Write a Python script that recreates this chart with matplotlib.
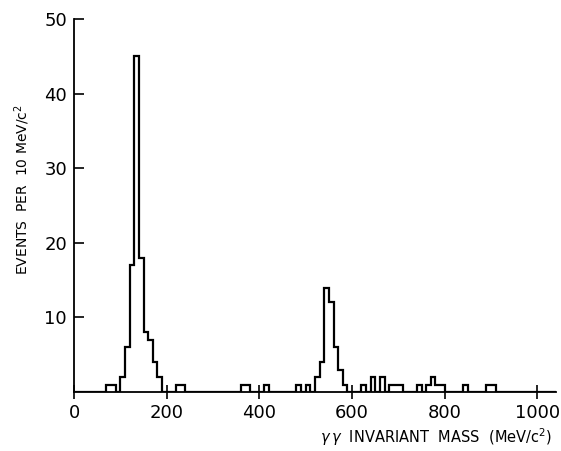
import numpy as np
import matplotlib
matplotlib.use("Agg")
import matplotlib.pyplot as plt

# Data: 10 MeV bins (lower edges) with nonzero counts
bin_low = [70, 80, 100, 110, 120, 130, 140, 150, 160, 170, 180,
           220, 230, 360, 370, 410, 480, 500,
           520, 530, 540, 550, 560, 570, 580,
           620, 640, 660, 680, 690, 700, 740, 760, 770, 780, 790,
           840, 890, 900]
counts = [1, 1, 2, 6, 17, 45, 18, 8, 7, 4, 2,
          1, 1, 1, 1, 1, 1, 1,
          2, 4, 14, 12, 6, 3, 1,
          1, 2, 2, 1, 1, 1, 1, 1, 2, 1, 1,
          1, 1, 1]
bin_width = 10
x_ticks = [0, 200, 400, 600, 800, 1000]
y_ticks = [10, 20, 30, 40, 50]

edges = np.arange(0, 1040 + bin_width, bin_width)
values = np.zeros(len(edges) - 1)
for lo, c in zip(bin_low, counts):
    values[lo // bin_width] = c

fig = plt.figure(figsize=(5.61, 4.51), dpi=100)
ax = fig.add_axes([74/561, 1 - 392/451, (556-74)/561, (392-19)/451])

ax.stairs(values, edges, baseline=0, color="black", linewidth=1.6)

ax.set_xlim(0, 1040)
ax.set_ylim(0, 50)
for s in ["top", "right"]:
    ax.spines[s].set_visible(False)
for s in ["left", "bottom"]:
    ax.spines[s].set_linewidth(1.3)

ax.set_xticks(x_ticks)
ax.set_xticklabels([str(t) for t in x_ticks])
ax.set_yticks(y_ticks)
ax.set_yticklabels([str(t) for t in y_ticks])
ax.tick_params(axis="x", direction="inout", length=10, width=1.2, labelsize=13, pad=4)
ax.tick_params(axis="y", direction="in", length=7, width=1.2, labelsize=13, pad=5)

fig.text(436/561, 1 - 437/451, r"$\gamma\,\gamma$  INVARIANT  MASS  (MeV/c$^2$)",
         ha="center", va="center", fontsize=10.5)
fig.text(22/561, 1 - 190/451, r"EVENTS  PER  10 MeV/c$^2$",
         ha="center", va="center", rotation=90, fontsize=10)

fig.savefig("out.png", dpi=100)
